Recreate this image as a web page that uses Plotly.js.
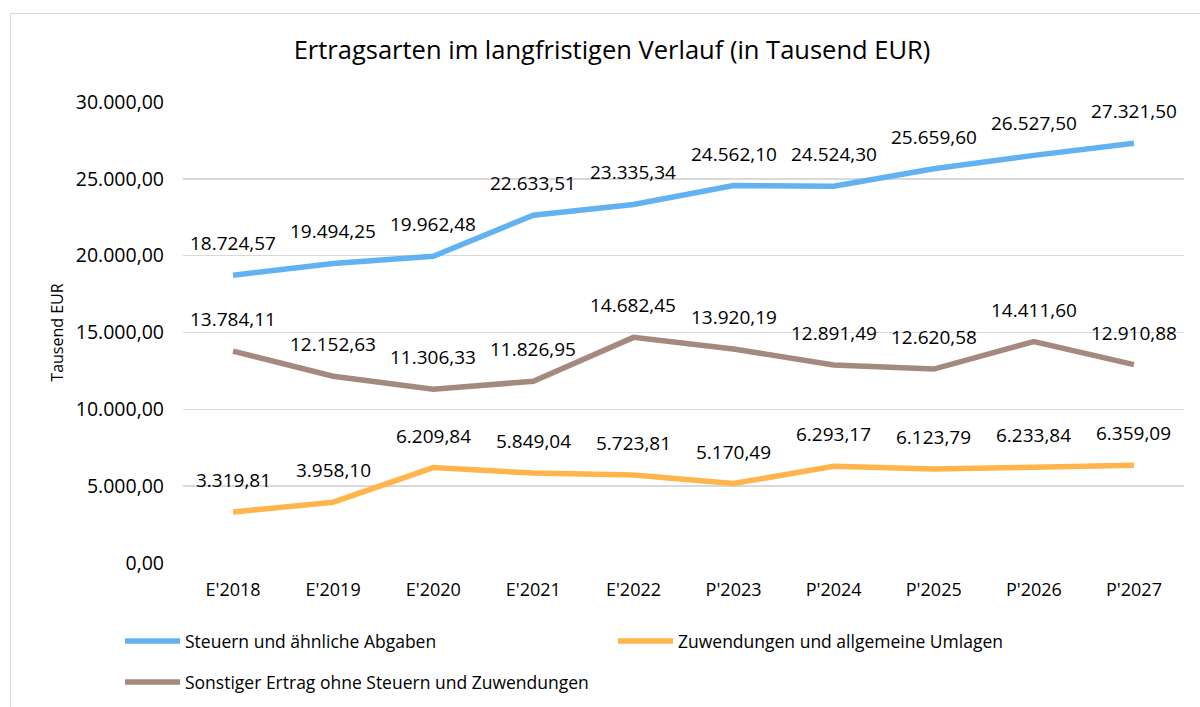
<!DOCTYPE html>
<html>
<head>
<meta charset="utf-8">
<script src="https://cdn.plot.ly/plotly-3.0.1.min.js"></script>
<style>
  html, body { margin: 0; padding: 0; background: #fff; }
  #chart { width: 1200px; height: 707px; }
</style>
</head>
<body>
<div id="chart"></div>
<script>
const categories = ["E'2018", "E'2019", "E'2020", "E'2021", "E'2022", "P'2023", "P'2024", "P'2025", "P'2026", "P'2027"];
const steuern = [18724.57, 19494.25, 19962.48, 22633.51, 23335.34, 24562.10, 24524.30, 25659.60, 26527.50, 27321.50];
const zuwendungen = [3319.81, 3958.10, 6209.84, 5849.04, 5723.81, 5170.49, 6293.17, 6123.79, 6233.84, 6359.09];
const sonstiger = [13784.11, 12152.63, 11306.33, 11826.95, 14682.45, 13920.19, 12891.49, 12620.58, 14411.60, 12910.88];
const seriesNames = ["Steuern und ähnliche Abgaben", "Zuwendungen und allgemeine Umlagen", "Sonstiger Ertrag ohne Steuern und Zuwendungen"];
const yTicks = [0, 5000, 10000, 15000, 20000, 25000, 30000];

const FONT = "Open Sans, sans-serif";
const colors = ["#62B2F2", "#FFB54C", "#A48A7E"];

function fmt(v) {
  const parts = v.toFixed(2).split(".");
  const intPart = parts[0].replace(/\B(?=(\d{3})+(?!\d))/g, ".");
  return intPart + "," + parts[1];
}

const seriesData = [steuern, zuwendungen, sonstiger];
const legendIds = ["legend", "legend", "legend2"];

const traces = seriesData.map((vals, i) => ({
  type: "scatter",
  mode: "lines",
  x: categories,
  y: vals,
  name: seriesNames[i],
  legend: legendIds[i],
  line: { color: colors[i], width: 5.5 },
  hoverinfo: "skip"
}));

const annotations = [];
seriesData.forEach((vals) => {
  vals.forEach((v, j) => {
    annotations.push({
      x: categories[j], y: v, xref: "x", yref: "y",
      text: fmt(v), showarrow: false,
      yshift: 32, yanchor: "middle", xanchor: "center",
      font: { family: FONT, size: 19, color: "#000" }
    });
  });
});

const L = 183, R = 16, T = 102, B = 144;
const pw = 1200 - L - R, ph = 707 - T - B;
function px2x(px) { return (px - L) / pw; }
function py2y(py) { return (707 - B - py) / ph; }

const layout = {
  width: 1200, height: 707,
  margin: { l: L, r: R, t: T, b: B, autoexpand: false },
  paper_bgcolor: "#fff", plot_bgcolor: "#fff",
  separators: ",.",
  font: { family: FONT, size: 18, color: "#000" },
  title: {
    text: "Ertragsarten im langfristigen Verlauf (in Tausend EUR)",
    font: { family: FONT, size: 25.5, color: "#000" },
    x: 0.51, xref: "container", xanchor: "center",
    y: 1 - 50 / 707, yref: "container", yanchor: "middle"
  },
  xaxis: {
    type: "category",
    range: [-0.5, 9.5],
    showgrid: false, showline: false, zeroline: false,
    ticks: "", ticklabelstandoff: 14,
    tickfont: { family: FONT, size: 18, color: "#000" },
    fixedrange: true
  },
  yaxis: {
    range: [0, 30000],
    tickvals: yTicks,
    tickformat: ",.2f",
    showgrid: true, gridcolor: "#d9d9d9", gridwidth: 1.5,
    zeroline: false, showline: false,
    ticks: "", ticklabelstandoff: 18,
    tickfont: { family: FONT, size: 19.5, color: "#000" },
    title: { text: "Tausend EUR", font: { family: FONT, size: 16, color: "#000" }, standoff: 8 },
    automargin: false,
    fixedrange: true
  },
  legend: {
    orientation: "h",
    x: px2x(120), xanchor: "left",
    y: py2y(623), yanchor: "top",
    entrywidth: 423, entrywidthmode: "pixels",
    itemwidth: 55,
    font: { family: FONT, size: 17.5, color: "#000" },
    bgcolor: "rgba(0,0,0,0)"
  },
  legend2: {
    orientation: "h",
    x: px2x(120), xanchor: "left",
    y: py2y(664), yanchor: "top",
    itemwidth: 55,
    font: { family: FONT, size: 17.5, color: "#000" },
    bgcolor: "rgba(0,0,0,0)"
  },
  annotations: annotations,
  shapes: [{
    type: "rect", xref: "paper", yref: "paper", layer: "below",
    x0: px2x(10.5), x1: px2x(1215), y0: py2y(13.5), y1: py2y(720),
    line: { color: "#d9d9d9", width: 1 }
  }],
  showlegend: true
};

Plotly.newPlot("chart", traces, layout, { displayModeBar: false, staticPlot: true });
</script>
</body>
</html>
